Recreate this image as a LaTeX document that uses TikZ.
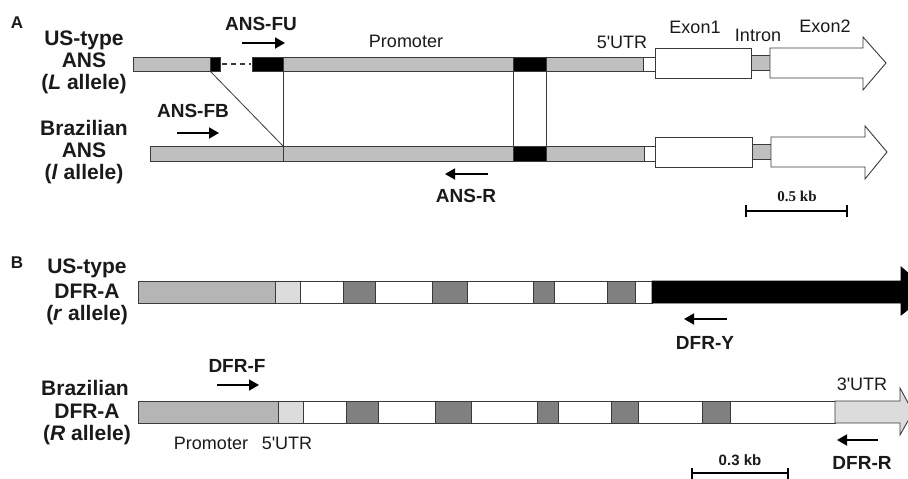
\documentclass[tikz,border=0pt]{standalone}
\usepackage{fontspec}
\setmainfont{Liberation Sans}[Ligatures=TeXOff]
\newfontfamily\serifface{Liberation Serif}
\usetikzlibrary{arrows.meta}
\definecolor{promA}{HTML}{BFBFBF}
\definecolor{promB}{HTML}{B5B5B5}
\definecolor{utrB}{HTML}{DCDCDC}
\definecolor{exdark}{HTML}{808080}
\definecolor{edge}{HTML}{3A3A3A}
\definecolor{txt}{HTML}{1A1A1A}
\tikzset{
  seg/.style={draw=edge, line width=0.9pt},
  allele/.style={inner sep=0pt, anchor=base, text=txt, font=\bfseries\fontsize{21}{21}\selectfont},
  primer/.style={inner sep=0pt, anchor=base, text=txt, font=\bfseries\fontsize{19}{19}\selectfont},
  region/.style={inner sep=0pt, anchor=base, text=txt, font=\fontsize{18}{18}\selectfont},
  panel/.style={inner sep=0pt, anchor=base, text=txt, font=\bfseries\fontsize{17}{17}\selectfont},
  parrow/.style={-{Triangle[length=10pt,width=11pt]}, line width=1.8pt, shorten >=-1pt},
  scalebar/.style={line width=1.4pt},
  link/.style={draw=edge, line width=0.8pt}
}
\begin{document}
\begin{tikzpicture}[x=1pt,y=-1pt]
\useasboundingbox (0,0) rectangle (908,479);
\clip (0,0) rectangle (908,479);
\fill[white] (0,0) rectangle (908,479);

%% ---------------- Panel A ----------------
\node[panel] (pA) at (17,28) {A};
\node[allele] (a1) at (84,45) {US-type};
\node[allele] (a2) at (84,67) {ANS};
\node[allele] (a3) at (84,89) {(\textit{L} allele)};
\node[allele] (a4) at (84,135) {Brazilian};
\node[allele] (a5) at (84,157) {ANS};
\node[allele] (a6) at (84,179) {(\textit{l} allele)};

% top row (US-type ANS)
\draw[seg, fill=promA] (133,57) rectangle (210,71);
\draw[seg, fill=black] (210,57) rectangle (220,71);
\draw[edge, line width=1.2pt, dash pattern=on 5pt off 4pt] (222,64) -- (251,64);
\draw[seg, fill=black] (252,57) rectangle (283,71);
\draw[seg, fill=promA] (283,57) rectangle (513,71);
\draw[seg, fill=black] (513,57) rectangle (546,71);
\draw[seg, fill=promA] (546,57) rectangle (643,71);
\draw[seg, fill=white] (643,57) rectangle (655,71);
\draw[seg, fill=white] (655,48) rectangle (751,78);
\draw[seg, fill=promA] (751,55) rectangle (770,70);
\draw[seg, fill=white] (770,48) -- (863,48) -- (863,37) -- (886,63) -- (863,90) -- (863,78) -- (770,78) -- cycle;

% bottom row (Brazilian ANS)
\draw[seg, fill=promA] (150,146) rectangle (283,161);
\draw[seg, fill=promA] (283,146) rectangle (513,161);
\draw[seg, fill=black] (513,146) rectangle (546,161);
\draw[seg, fill=promA] (546,146) rectangle (644,161);
\draw[seg, fill=white] (644,146) rectangle (655,161);
\draw[seg, fill=white] (655,137) rectangle (752,167);
\draw[seg, fill=promA] (752,144) rectangle (771,159);
\draw[seg, fill=white] (771,137) -- (865,137) -- (865,126) -- (887,152) -- (865,179) -- (865,167) -- (771,167) -- cycle;

% links between rows
\coordinate (d1) at (210,71);
\coordinate (d2) at (283,146);
\coordinate (v1) at (283,71);
\coordinate (w1) at (513,71);
\coordinate (w2) at (513,146);
\coordinate (u1) at (546,71);
\coordinate (u2) at (546,146);
\draw[link] (d1) -- (d2);
\draw[link] (v1) -- (d2);
\draw[link] (w1) -- (w2);
\draw[link] (u1) -- (u2);

% region labels A
\node[region] (promA) at (406,47) {Promoter};
\node[region] (utrA) at (622,48) {5'UTR};
\node[region] (ex1) at (695,33) {Exon1};
\node[region] (intr) at (758,41) {Intron};
\node[region] (ex2) at (825,32) {Exon2};

% primers A
\node[primer] (fu) at (261,30) {ANS-FU};
\coordinate (fu1) at (242,43);
\coordinate (fu2) at (284,43);
\draw[parrow] (fu1) -- (fu2);
\node[primer] (fb) at (193,117) {ANS-FB};
\coordinate (fb1) at (177,133);
\coordinate (fb2) at (218,133);
\draw[parrow] (fb1) -- (fb2);
\node[primer] (ar) at (466,202) {ANS-R};
\coordinate (ar1) at (488,174);
\coordinate (ar2) at (446,174);
\draw[parrow] (ar1) -- (ar2);

% scale bar A
\node[inner sep=0pt, anchor=base, text=txt, font=\serifface\bfseries\fontsize{15}{15}\selectfont] (sa) at (797,201) {0.5 kb};
\coordinate (sa1) at (746,211);
\coordinate (sa2) at (847,211);
\draw[scalebar] (sa1) -- (sa2);
\draw[scalebar] ([yshift=-6pt]sa1) -- ([yshift=6pt]sa1);
\draw[scalebar] ([yshift=-6pt]sa2) -- ([yshift=6pt]sa2);

%% ---------------- Panel B ----------------
\node[panel] (pB) at (17,268) {B};
\node[allele] (b1) at (87,273) {US-type};
\node[allele] (b2) at (87,298) {DFR-A};
\node[allele] (b3) at (87,320) {(\textit{r} allele)};
\node[allele] (b4) at (85,395) {Brazilian};
\node[allele] (b5) at (87,418) {DFR-A};
\node[allele] (b6) at (87,440) {(\textit{R} allele)};

% top row B
\draw[seg, fill=promB] (138,281) rectangle (275,303);
\draw[seg, fill=utrB] (275,281) rectangle (300,303);
\draw[seg, fill=white] (300,281) rectangle (343,303);
\draw[seg, fill=exdark] (343,281) rectangle (375,303);
\draw[seg, fill=white] (375,281) rectangle (432,303);
\draw[seg, fill=exdark] (432,281) rectangle (467,303);
\draw[seg, fill=white] (467,281) rectangle (533,303);
\draw[seg, fill=exdark] (533,281) rectangle (554,303);
\draw[seg, fill=white] (554,281) rectangle (607,303);
\draw[seg, fill=exdark] (607,281) rectangle (635,303);
\draw[seg, fill=white] (635,281) rectangle (652,303);
\draw[draw=black, fill=black, line width=0.9pt] (652,281) -- (901,281) -- (901,267) -- (930,292) -- (901,315) -- (901,303) -- (652,303) -- cycle;

% bottom row B
\draw[seg, fill=promB] (138,401) rectangle (278,423);
\draw[seg, fill=utrB] (278,401) rectangle (303,423);
\draw[seg, fill=white] (303,401) rectangle (346,423);
\draw[seg, fill=exdark] (346,401) rectangle (378,423);
\draw[seg, fill=white] (378,401) rectangle (435,423);
\draw[seg, fill=exdark] (435,401) rectangle (471,423);
\draw[seg, fill=white] (471,401) rectangle (537,423);
\draw[seg, fill=exdark] (537,401) rectangle (558,423);
\draw[seg, fill=white] (558,401) rectangle (611,423);
\draw[seg, fill=exdark] (611,401) rectangle (638,423);
\draw[seg, fill=white] (638,401) rectangle (702,423);
\draw[seg, fill=exdark] (702,401) rectangle (730,423);
\draw[seg, fill=white] (730,401) rectangle (835,423);
\draw[seg, fill=utrB] (835,401) -- (900,401) -- (900,388) -- (913,412) -- (900,435) -- (900,423) -- (835,423) -- cycle;

% region labels B
\node[region] (promBl) at (211,449) {Promoter};
\node[region] (utr5B) at (287,449) {5'UTR};
\node[region] (utr3B) at (862,390) {3'UTR};

% primers B
\node[primer] (dy) at (705,349) {DFR-Y};
\coordinate (dy1) at (727,319);
\coordinate (dy2) at (685,319);
\draw[parrow] (dy1) -- (dy2);
\node[primer] (df) at (237,372) {DFR-F};
\coordinate (df1) at (217,385);
\coordinate (df2) at (258,385);
\draw[parrow] (df1) -- (df2);
\node[primer] (dr) at (862,469) {DFR-R};
\coordinate (dr1) at (878,440);
\coordinate (dr2) at (838,440);
\draw[parrow] (dr1) -- (dr2);

% scale bar B
\node[inner sep=0pt, anchor=base, text=txt, font=\bfseries\fontsize{15}{15}\selectfont] (sb) at (740,465) {0.3 kb};
\coordinate (sb1) at (692,473);
\coordinate (sb2) at (788,473);
\draw[scalebar] (sb1) -- (sb2);
\draw[scalebar] ([yshift=-6pt]sb1) -- ([yshift=5pt]sb1);
\draw[scalebar] ([yshift=-6pt]sb2) -- ([yshift=5pt]sb2);
\end{tikzpicture}
\end{document}
